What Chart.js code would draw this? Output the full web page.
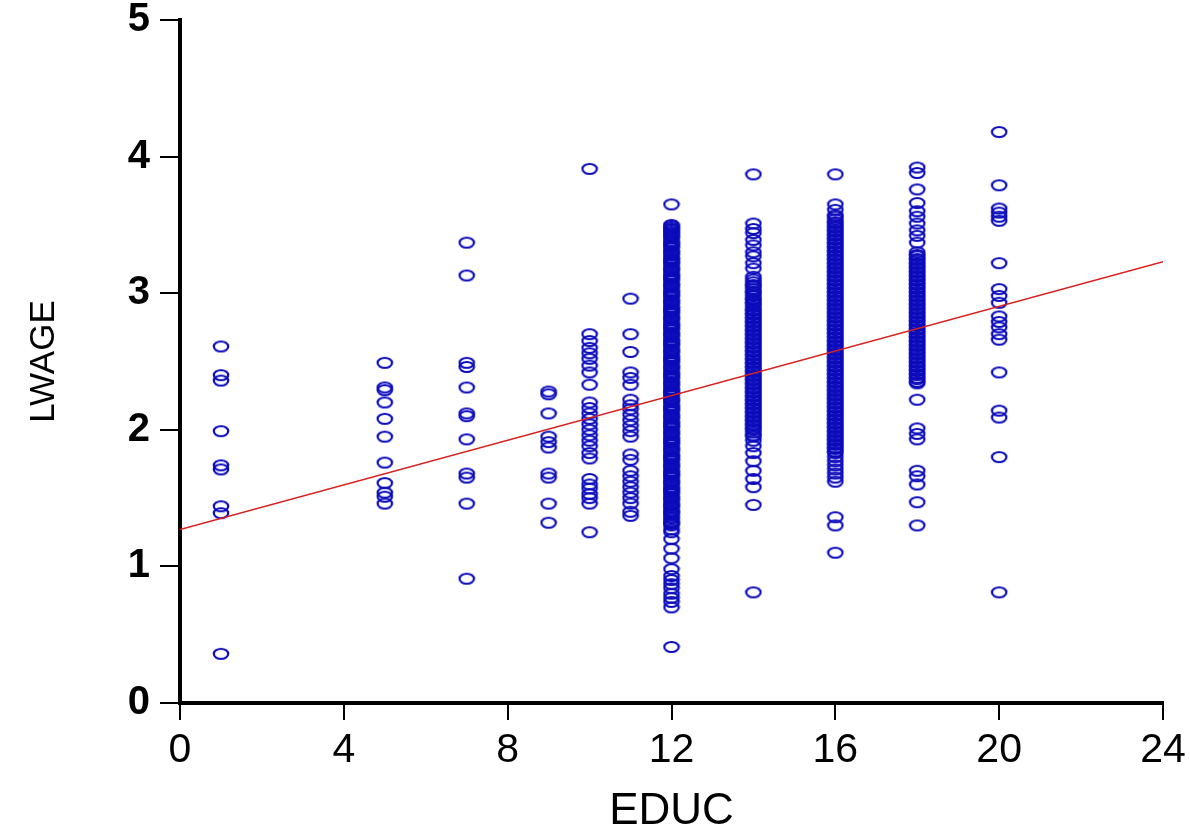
<!DOCTYPE html>
<html>
<head>
<meta charset="utf-8">
<script src="https://cdn.jsdelivr.net/npm/chart.js@4/dist/chart.umd.min.js"></script>
<style>
  body { margin: 0; background: #fff; }
  canvas { display: block; }
</style>
</head>
<body>
<canvas id="scatter" width="1190" height="828"></canvas>
<script>
// Years of education (x) and log wage values (y), one list per column
const lwageEduc1 = [2.61, 2.40, 2.36, 1.99, 1.74, 1.71, 1.44, 1.39, 0.36];
const lwageEduc5 = [2.49, 2.31, 2.29, 2.20, 2.08, 1.95, 1.76, 1.61, 1.54, 1.51, 1.46];
const lwageEduc7 = [3.37, 3.13, 2.49, 2.46, 2.31, 2.12, 2.10, 1.93, 1.68, 1.65, 1.46, 0.91];
const lwageEduc9 = [2.28, 2.26, 2.12, 1.95, 1.91, 1.87, 1.68, 1.65, 1.46, 1.32];
const lwageEduc10 = [3.91, 2.70, 2.65, 2.60, 2.56, 2.52, 2.47, 2.42, 2.33, 2.20, 2.16, 2.12, 2.08, 2.04,
  2.00, 1.96, 1.92, 1.88, 1.83, 1.79, 1.64, 1.60, 1.57, 1.53, 1.50, 1.46, 1.25];
const lwageEduc11 = [2.96, 2.70, 2.57, 2.42, 2.38, 2.33, 2.22, 2.18, 2.15, 2.11, 2.07, 2.03, 1.99, 1.95,
  1.82, 1.78, 1.70, 1.66, 1.62, 1.58, 1.54, 1.50, 1.46, 1.40, 1.37];
const lwageEduc12 = [3.65, 3.50, 3.48, 3.46, 3.44, 3.42, 3.40, 3.37, 3.35, 3.33, 3.30, 3.28, 3.25, 3.23,
  3.21, 3.18, 3.16, 3.13, 3.11, 3.09, 3.06, 3.04, 3.01, 2.99, 2.97, 2.94, 2.92, 2.89, 2.87, 2.85, 2.82,
  2.80, 2.77, 2.75, 2.73, 2.70, 2.68, 2.65, 2.63, 2.61, 2.58, 2.56, 2.53, 2.51, 2.49, 2.46, 2.44, 2.41,
  2.39, 2.37, 2.34, 2.32, 2.29, 2.27, 2.25, 2.22, 2.20, 2.17, 2.15, 2.13, 2.10, 2.08, 2.05, 2.03, 2.01,
  1.98, 1.96, 1.93, 1.91, 1.89, 1.86, 1.84, 1.81, 1.79, 1.77, 1.74, 1.72, 1.69, 1.67, 1.65, 1.62, 1.60,
  1.57, 1.55, 1.53, 1.50, 1.48, 1.45, 1.43, 1.40, 1.38, 1.35, 1.32, 1.30, 1.27, 1.25, 1.20, 1.13, 1.06,
  0.98, 0.93, 0.90, 0.87, 0.84, 0.80, 0.77, 0.74, 0.70, 0.41,
  3.49, 3.47, 3.45, 3.43, 3.41, 3.38, 3.36, 3.34, 3.31, 3.29, 3.26, 3.24, 3.22, 3.19, 3.17, 3.14, 3.12,
  3.10, 3.07, 3.05, 3.02, 3.00, 2.98, 2.95, 2.93, 2.90, 2.88, 2.86, 2.83, 2.81, 2.78, 2.76, 2.74, 2.71,
  2.69, 2.66, 2.64, 2.62, 2.59, 2.57, 2.54, 2.52, 2.50, 2.47, 2.45, 2.42, 2.40, 2.38, 2.35, 2.33, 2.30,
  2.28, 2.26, 2.23, 2.21, 2.18, 2.16, 2.14, 2.11, 2.09, 2.06, 2.04, 2.02, 1.99, 1.97, 1.94, 1.92, 1.90,
  1.87, 1.85, 1.82, 1.80, 1.78, 1.75, 1.73, 1.70, 1.68, 1.66, 1.63, 1.61, 1.58, 1.56, 1.54, 1.51, 1.49,
  1.46, 1.44, 1.41, 1.39, 1.36, 1.33, 1.31];
const lwageEduc14 = [3.87, 3.51, 3.47, 3.44, 3.39, 3.35, 3.30, 3.27, 3.22, 3.18, 3.12, 3.08, 3.05, 3.01,
  2.98, 2.95, 2.92, 2.88, 2.85, 2.82, 2.79, 2.76, 2.73, 2.70, 2.67, 2.64, 2.61, 2.58, 2.55, 2.52, 2.49,
  2.46, 2.43, 2.40, 2.37, 2.34, 2.31, 2.28, 2.25, 2.22, 2.19, 2.16, 2.13, 2.10, 2.07, 2.04, 2.01, 1.98,
  1.95, 1.92, 1.88, 1.83, 1.77, 1.70, 1.64, 1.58, 1.45, 0.81,
  3.10, 3.06, 3.03, 3.00, 2.96, 2.93, 2.90, 2.87, 2.84, 2.81, 2.78, 2.75, 2.72, 2.69, 2.66, 2.63, 2.60,
  2.57, 2.54, 2.51, 2.48, 2.45, 2.42, 2.39, 2.36, 2.33, 2.30, 2.27, 2.24, 2.21, 2.18, 2.15, 2.12, 2.09,
  2.06, 2.03, 2.00, 1.96];
const lwageEduc16 = [3.87, 3.65, 3.61, 3.57, 3.54, 3.51, 3.48, 3.45, 3.42, 3.39, 3.36, 3.33, 3.30, 3.27,
  3.24, 3.21, 3.18, 3.15, 3.12, 3.09, 3.06, 3.03, 3.00, 2.97, 2.94, 2.91, 2.88, 2.85, 2.82, 2.79, 2.76,
  2.73, 2.70, 2.67, 2.64, 2.61, 2.58, 2.55, 2.52, 2.49, 2.46, 2.43, 2.40, 2.37, 2.34, 2.31, 2.28, 2.25,
  2.22, 2.19, 2.16, 2.13, 2.10, 2.07, 2.04, 2.01, 1.98, 1.95, 1.92, 1.89, 1.86, 1.83, 1.80, 1.77, 1.74,
  1.71, 1.68, 1.65, 1.62, 1.36, 1.30, 1.10,
  3.56, 3.52, 3.49, 3.46, 3.43, 3.40, 3.37, 3.34, 3.31, 3.28, 3.25, 3.22, 3.19, 3.16, 3.13, 3.10, 3.07,
  3.04, 3.01, 2.98, 2.95, 2.92, 2.89, 2.86, 2.83, 2.80, 2.77, 2.74, 2.71, 2.68, 2.65, 2.62, 2.59, 2.56,
  2.53, 2.50, 2.47, 2.44, 2.41, 2.38, 2.35, 2.32, 2.29, 2.26, 2.23, 2.20, 2.17, 2.14, 2.11, 2.08, 2.05,
  2.02, 1.99, 1.96, 1.93, 1.90, 1.87, 1.84];
const lwageEduc18 = [3.92, 3.88, 3.76, 3.66, 3.60, 3.56, 3.51, 3.46, 3.42, 3.37, 3.30, 3.27, 3.24, 3.21,
  3.18, 3.15, 3.12, 3.09, 3.06, 3.03, 3.00, 2.97, 2.94, 2.91, 2.88, 2.85, 2.82, 2.79, 2.76, 2.73, 2.70,
  2.67, 2.64, 2.61, 2.58, 2.55, 2.52, 2.49, 2.46, 2.43, 2.40, 2.37, 2.34, 2.22, 2.01, 1.97, 1.93, 1.70,
  1.66, 1.60, 1.47, 1.30,
  3.28, 3.25, 3.22, 3.19, 3.16, 3.13, 3.10, 3.07, 3.04, 3.01, 2.98, 2.95, 2.92, 2.89, 2.86, 2.83, 2.80,
  2.77, 2.74, 2.71, 2.68, 2.65, 2.62, 2.59, 2.56, 2.53, 2.50, 2.47, 2.44, 2.41, 2.38, 2.35];
const lwageEduc20 = [4.18, 3.79, 3.62, 3.59, 3.56, 3.53, 3.22, 3.03, 2.98, 2.93, 2.83, 2.79, 2.75, 2.70,
  2.66, 2.42, 2.14, 2.09, 1.80, 0.81];

const educLevels = [1, 5, 7, 9, 10, 11, 12, 14, 16, 18, 20];
const lwageColumns = [lwageEduc1, lwageEduc5, lwageEduc7, lwageEduc9, lwageEduc10, lwageEduc11,
  lwageEduc12, lwageEduc14, lwageEduc16, lwageEduc18, lwageEduc20];

// Fitted line end points
const fitX = [0, 24];
const fitY = [1.27, 3.23];

// Tick values
const xTicks = [0, 4, 8, 12, 16, 20, 24];
const yTicks = [0, 1, 2, 3, 4, 5];

// Build scatter points from the columns
const scatterPoints = [];
educLevels.forEach((educ, i) => {
  lwageColumns[i].forEach(v => scatterPoints.push({ x: educ, y: v }));
});
const fitPoints = fitX.map((x, i) => ({ x: x, y: fitY[i] }));

// Hollow ellipse marker, wider than tall like the original plot
const marker = document.createElement('canvas');
marker.width = 18;
marker.height = 14;
const mctx = marker.getContext('2d');
mctx.strokeStyle = '#0c0cbc';
mctx.lineWidth = 2.2;
mctx.beginPath();
mctx.ellipse(9, 7, 7.2, 5, 0, 0, Math.PI * 2);
mctx.stroke();

const sans = "'Liberation Sans', Arial, sans-serif";

new Chart(document.getElementById('scatter').getContext('2d'), {
  type: 'scatter',
  data: {
    datasets: [
      {
        type: 'line',
        data: fitPoints,
        borderColor: '#d82020',
        borderWidth: 1.5,
        pointRadius: 0,
        order: 0
      },
      {
        data: scatterPoints,
        pointStyle: marker,
        pointRadius: 7,
        order: 1
      }
    ]
  },
  options: {
    responsive: false,
    animation: false,
    layout: { padding: { top: 20, right: 27, left: 0, bottom: 0 } },
    plugins: { legend: { display: false }, tooltip: { enabled: false } },
    scales: {
      x: {
        type: 'linear',
        min: 0,
        max: 24,
        afterBuildTicks: s => { s.ticks = xTicks.map(v => ({ value: v })); },
        afterFit: s => { s.height = 125; s.paddingLeft = 0; s.paddingRight = 0; },
        border: { display: true, color: '#000', width: 4 },
        grid: { drawOnChartArea: false, drawTicks: true, tickLength: 17, color: '#000', lineWidth: 2 },
        ticks: { color: '#000', padding: 6, maxRotation: 0, font: { family: sans, size: 41 } },
        title: {
          display: true,
          text: 'EDUC',
          color: '#000',
          font: { family: sans, size: 44, lineHeight: 0.6 },
          padding: { top: 0, bottom: 3 }
        }
      },
      y: {
        type: 'linear',
        min: 0,
        max: 5,
        afterBuildTicks: s => { s.ticks = yTicks.map(v => ({ value: v })); },
        afterFit: s => { s.width = 180; s.paddingTop = 0; s.paddingBottom = 0; },
        border: { display: true, color: '#000', width: 4 },
        grid: { drawOnChartArea: false, drawTicks: true, tickLength: 20, color: '#000', lineWidth: 2 },
        ticks: { color: '#000', padding: 10, font: { family: sans, size: 40, weight: 'bold' } },
        title: {
          display: true,
          text: 'LWAGE',
          color: '#000',
          font: { family: sans, size: 35, lineHeight: 1.2 },
          padding: { top: 23, bottom: 0 }
        }
      }
    }
  }
});
</script>
</body>
</html>
